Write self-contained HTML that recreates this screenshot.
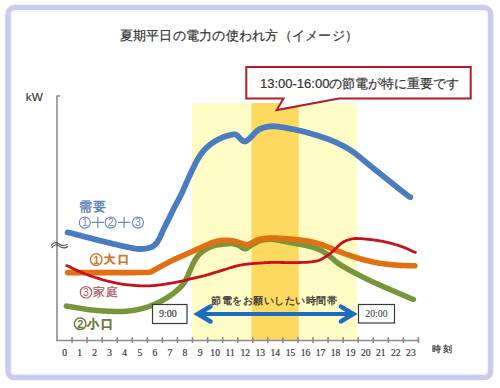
<!DOCTYPE html>
<html><head><meta charset="utf-8">
<style>
html,body{margin:0;padding:0;background:#fff;width:500px;height:388px;overflow:hidden}
svg{position:absolute;left:0;top:0}
</style></head><body>
<svg width="500" height="388" viewBox="0 0 500 388" font-family="'Liberation Sans', sans-serif">
<rect x="8" y="7.55" width="482.65" height="370.05" rx="6.5" fill="none" stroke="#cbcbef" stroke-width="5.5"/><rect x="11.7" y="11.2" width="475.3" height="362.8" rx="3" fill="none" stroke="#eeeefa" stroke-width="1"/>
<rect x="192" y="103" width="165" height="237" fill="#fffcc6"/>
<rect x="251.5" y="103" width="47.2" height="237" fill="#fdd960"/>
<g stroke="#8c8c8c" stroke-width="1.6" fill="none">
<line x1="57" y1="95.5" x2="57" y2="341"/>
<line x1="57" y1="96" x2="60" y2="96"/>
<line x1="56.2" y1="340.5" x2="418.5" y2="340.5"/>
<line x1="72.06" y1="337" x2="72.06" y2="343"/><line x1="87.12" y1="337" x2="87.12" y2="343"/><line x1="102.18" y1="337" x2="102.18" y2="343"/><line x1="117.24" y1="337" x2="117.24" y2="343"/><line x1="132.30" y1="337" x2="132.30" y2="343"/><line x1="147.36" y1="337" x2="147.36" y2="343"/><line x1="162.42" y1="337" x2="162.42" y2="343"/><line x1="177.48" y1="337" x2="177.48" y2="343"/><line x1="192.54" y1="337" x2="192.54" y2="343"/><line x1="207.60" y1="337" x2="207.60" y2="343"/><line x1="222.66" y1="337" x2="222.66" y2="343"/><line x1="237.72" y1="337" x2="237.72" y2="343"/><line x1="252.78" y1="337" x2="252.78" y2="343"/><line x1="267.84" y1="337" x2="267.84" y2="343"/><line x1="282.90" y1="337" x2="282.90" y2="343"/><line x1="297.96" y1="337" x2="297.96" y2="343"/><line x1="313.02" y1="337" x2="313.02" y2="343"/><line x1="328.08" y1="337" x2="328.08" y2="343"/><line x1="343.14" y1="337" x2="343.14" y2="343"/><line x1="358.20" y1="337" x2="358.20" y2="343"/><line x1="373.26" y1="337" x2="373.26" y2="343"/><line x1="388.32" y1="337" x2="388.32" y2="343"/><line x1="403.38" y1="337" x2="403.38" y2="343"/><line x1="418.44" y1="337" x2="418.44" y2="343"/>
</g>
<path d="M66.40 306.08 L67.15 306.16 L67.90 306.27 L68.65 306.39 L69.40 306.52 L70.15 306.64 L70.90 306.77 L71.65 306.89 L72.40 307.02 L73.15 307.14 L73.90 307.26 L74.65 307.38 L75.40 307.50 L76.15 307.62 L76.90 307.75 L77.65 307.87 L78.40 307.99 L79.15 308.11 L79.90 308.24 L80.65 308.36 L81.40 308.49 L82.15 308.61 L82.90 308.73 L83.65 308.85 L84.40 308.97 L85.15 309.09 L85.90 309.20 L86.65 309.32 L87.40 309.42 L88.15 309.53 L88.90 309.63 L89.65 309.72 L90.40 309.82 L91.15 309.90 L91.90 309.98 L92.65 310.06 L93.40 310.14 L94.15 310.21 L94.90 310.28 L95.65 310.35 L96.40 310.42 L97.15 310.48 L97.90 310.55 L98.65 310.61 L99.40 310.67 L100.15 310.72 L100.90 310.78 L101.65 310.83 L102.40 310.88 L103.15 310.93 L103.90 310.98 L104.65 311.02 L105.40 311.07 L106.15 311.11 L106.90 311.15 L107.65 311.18 L108.40 311.22 L109.15 311.25 L109.90 311.28 L110.65 311.31 L111.40 311.34 L112.15 311.36 L112.90 311.39 L113.65 311.41 L114.40 311.43 L115.15 311.45 L115.90 311.46 L116.65 311.48 L117.40 311.49 L118.15 311.50 L118.90 311.50 L119.65 311.51 L120.40 311.51 L121.15 311.50 L121.90 311.49 L122.65 311.47 L123.40 311.45 L124.15 311.41 L124.90 311.36 L125.65 311.30 L126.40 311.24 L127.15 311.16 L127.90 311.08 L128.65 311.00 L129.40 310.91 L130.15 310.82 L130.90 310.73 L131.65 310.64 L132.40 310.54 L133.15 310.43 L133.90 310.32 L134.65 310.19 L135.40 310.06 L136.15 309.92 L136.90 309.76 L137.65 309.61 L138.40 309.44 L139.15 309.27 L139.90 309.10 L140.65 308.92 L141.40 308.74 L142.15 308.55 L142.90 308.36 L143.65 308.16 L144.40 307.95 L145.15 307.73 L145.90 307.50 L146.65 307.26 L147.40 307.01 L148.15 306.76 L148.90 306.50 L149.65 306.23 L150.40 305.96 L151.15 305.69 L151.90 305.41 L152.65 305.12 L153.40 304.83 L154.15 304.53 L154.90 304.22 L155.65 303.89 L156.40 303.55 L157.15 303.21 L157.90 302.85 L158.65 302.48 L159.40 302.10 L160.15 301.72 L160.90 301.33 L161.65 300.93 L162.40 300.52 L163.15 300.10 L163.90 299.66 L164.65 299.22 L165.40 298.77 L166.15 298.30 L166.90 297.83 L167.65 297.35 L168.40 296.86 L169.15 296.37 L169.90 295.87 L170.65 295.35 L171.40 294.83 L172.15 294.29 L172.90 293.73 L173.65 293.15 L174.40 292.55 L175.15 291.94 L175.90 291.31 L176.65 290.66 L177.40 290.01 L178.15 289.34 L178.90 288.65 L179.65 287.95 L180.40 287.21 L181.15 286.44 L181.90 285.61 L182.65 284.73 L183.40 283.78 L184.15 282.75 L184.90 281.60 L185.65 280.32 L186.40 278.87 L187.15 277.26 L187.90 275.54 L188.65 273.77 L189.40 271.98 L190.15 270.22 L190.90 268.48 L191.65 266.77 L192.40 265.11 L193.15 263.53 L193.90 262.07 L194.65 260.72 L195.40 259.48 L196.15 258.33 L196.90 257.25 L197.65 256.24 L198.40 255.31 L199.15 254.47 L199.90 253.72 L200.65 253.04 L201.40 252.41 L202.15 251.83 L202.90 251.28 L203.65 250.75 L204.40 250.25 L205.15 249.76 L205.90 249.31 L206.65 248.88 L207.40 248.47 L208.15 248.09 L208.90 247.72 L209.65 247.36 L210.40 247.01 L211.15 246.66 L211.90 246.34 L212.65 246.04 L213.40 245.78 L214.15 245.55 L214.90 245.37 L215.65 245.21 L216.40 245.08 L217.15 244.97 L217.90 244.86 L218.65 244.77 L219.40 244.67 L220.15 244.58 L220.90 244.49 L221.65 244.40 L222.40 244.30 L223.15 244.21 L223.90 244.12 L224.65 244.03 L225.40 243.95 L226.15 243.87 L226.90 243.79 L227.65 243.72 L228.40 243.66 L229.15 243.60 L229.90 243.56 L230.65 243.55 L231.40 243.56 L232.15 243.62 L232.90 243.72 L233.65 243.87 L234.40 244.05 L235.15 244.27 L235.90 244.50 L236.65 244.76 L237.40 245.02 L238.15 245.31 L238.90 245.63 L239.65 246.02 L240.40 246.47 L241.15 246.98 L241.90 247.50 L242.65 247.98 L243.40 248.38 L244.15 248.65 L244.90 248.75 L245.65 248.68 L246.40 248.45 L247.15 248.09 L247.90 247.62 L248.65 247.10 L249.40 246.55 L250.15 246.01 L250.90 245.49 L251.65 245.01 L252.40 244.56 L253.15 244.13 L253.90 243.69 L254.65 243.26 L255.40 242.83 L256.15 242.41 L256.90 242.01 L257.65 241.63 L258.40 241.29 L259.15 240.98 L259.90 240.71 L260.65 240.48 L261.40 240.29 L262.15 240.13 L262.90 239.99 L263.65 239.87 L264.40 239.75 L265.15 239.64 L265.90 239.55 L266.65 239.47 L267.40 239.40 L268.15 239.35 L268.90 239.31 L269.65 239.29 L270.40 239.28 L271.15 239.30 L271.90 239.33 L272.65 239.38 L273.40 239.45 L274.15 239.54 L274.90 239.64 L275.65 239.75 L276.40 239.87 L277.15 239.99 L277.90 240.12 L278.65 240.25 L279.40 240.39 L280.15 240.53 L280.90 240.68 L281.65 240.83 L282.40 240.98 L283.15 241.13 L283.90 241.28 L284.65 241.43 L285.40 241.59 L286.15 241.74 L286.90 241.89 L287.65 242.04 L288.40 242.19 L289.15 242.33 L289.90 242.48 L290.65 242.62 L291.40 242.76 L292.15 242.90 L292.90 243.03 L293.65 243.17 L294.40 243.31 L295.15 243.44 L295.90 243.58 L296.65 243.71 L297.40 243.85 L298.15 243.99 L298.90 244.12 L299.65 244.26 L300.40 244.40 L301.15 244.54 L301.90 244.69 L302.65 244.83 L303.40 244.98 L304.15 245.13 L304.90 245.28 L305.65 245.43 L306.40 245.59 L307.15 245.76 L307.90 245.93 L308.65 246.11 L309.40 246.30 L310.15 246.50 L310.90 246.70 L311.65 246.91 L312.40 247.13 L313.15 247.36 L313.90 247.59 L314.65 247.84 L315.40 248.09 L316.15 248.34 L316.90 248.61 L317.65 248.89 L318.40 249.19 L319.15 249.51 L319.90 249.86 L320.65 250.23 L321.40 250.64 L322.15 251.06 L322.90 251.51 L323.65 251.98 L324.40 252.46 L325.15 252.96 L325.90 253.47 L326.65 253.98 L327.40 254.51 L328.15 255.05 L328.90 255.60 L329.65 256.18 L330.40 256.79 L331.15 257.42 L331.90 258.07 L332.65 258.73 L333.40 259.40 L334.15 260.07 L334.90 260.72 L335.65 261.35 L336.40 261.96 L337.15 262.54 L337.90 263.09 L338.65 263.62 L339.40 264.12 L340.15 264.61 L340.90 265.09 L341.65 265.56 L342.40 266.02 L343.15 266.47 L343.90 266.92 L344.65 267.36 L345.40 267.80 L346.15 268.22 L346.90 268.65 L347.65 269.07 L348.40 269.48 L349.15 269.89 L349.90 270.30 L350.65 270.71 L351.40 271.11 L352.15 271.51 L352.90 271.91 L353.65 272.31 L354.40 272.71 L355.15 273.11 L355.90 273.51 L356.65 273.90 L357.40 274.29 L358.15 274.68 L358.90 275.07 L359.65 275.46 L360.40 275.85 L361.15 276.23 L361.90 276.61 L362.65 276.99 L363.40 277.37 L364.15 277.74 L364.90 278.12 L365.65 278.49 L366.40 278.86 L367.15 279.22 L367.90 279.59 L368.65 279.95 L369.40 280.31 L370.15 280.67 L370.90 281.02 L371.65 281.38 L372.40 281.73 L373.15 282.08 L373.90 282.42 L374.65 282.77 L375.40 283.11 L376.15 283.46 L376.90 283.80 L377.65 284.13 L378.40 284.47 L379.15 284.81 L379.90 285.14 L380.65 285.48 L381.40 285.81 L382.15 286.14 L382.90 286.47 L383.65 286.81 L384.40 287.14 L385.15 287.46 L385.90 287.79 L386.65 288.12 L387.40 288.45 L388.15 288.77 L388.90 289.09 L389.65 289.42 L390.40 289.74 L391.15 290.06 L391.90 290.38 L392.65 290.70 L393.40 291.02 L394.15 291.33 L394.90 291.65 L395.65 291.97 L396.40 292.29 L397.15 292.61 L397.90 292.93 L398.65 293.25 L399.40 293.57 L400.15 293.89 L400.90 294.21 L401.65 294.53 L402.40 294.85 L403.15 295.18 L403.90 295.50 L404.65 295.82 L405.40 296.14 L406.15 296.46 L406.90 296.78 L407.65 297.10 L408.40 297.42 L409.15 297.74 L409.90 298.06 L410.65 298.38 L411.40 298.69 L412.15 298.98 L412.90 299.23 L413.40 299.35" stroke="#77953a" stroke-width="5.5" fill="none" stroke-linecap="round"/>
<path d="M67.60 272.60 L68.35 272.60 L69.10 272.60 L69.85 272.60 L70.60 272.60 L71.35 272.60 L72.10 272.60 L72.85 272.61 L73.60 272.61 L74.35 272.61 L75.10 272.61 L75.85 272.61 L76.60 272.61 L77.35 272.61 L78.10 272.61 L78.85 272.61 L79.60 272.61 L80.35 272.61 L81.10 272.61 L81.85 272.61 L82.60 272.61 L83.35 272.61 L84.10 272.61 L84.85 272.61 L85.60 272.61 L86.35 272.61 L87.10 272.61 L87.85 272.61 L88.60 272.61 L89.35 272.61 L90.10 272.61 L90.85 272.61 L91.60 272.61 L92.35 272.61 L93.10 272.61 L93.85 272.61 L94.60 272.61 L95.35 272.61 L96.10 272.61 L96.85 272.61 L97.60 272.61 L98.35 272.61 L99.10 272.61 L99.85 272.61 L100.60 272.61 L101.35 272.61 L102.10 272.61 L102.85 272.61 L103.60 272.60 L104.35 272.60 L105.10 272.60 L105.85 272.60 L106.60 272.60 L107.35 272.60 L108.10 272.60 L108.85 272.60 L109.60 272.60 L110.35 272.60 L111.10 272.60 L111.85 272.60 L112.60 272.60 L113.35 272.60 L114.10 272.60 L114.85 272.60 L115.60 272.60 L116.35 272.60 L117.10 272.60 L117.85 272.60 L118.60 272.60 L119.35 272.60 L120.10 272.60 L120.85 272.60 L121.60 272.60 L122.35 272.60 L123.10 272.60 L123.85 272.60 L124.60 272.60 L125.35 272.60 L126.10 272.60 L126.85 272.60 L127.60 272.59 L128.35 272.59 L129.10 272.59 L129.85 272.59 L130.60 272.59 L131.35 272.59 L132.10 272.59 L132.85 272.58 L133.60 272.58 L134.35 272.58 L135.10 272.58 L135.85 272.57 L136.60 272.57 L137.35 272.57 L138.10 272.57 L138.85 272.56 L139.60 272.56 L140.35 272.56 L141.10 272.55 L141.85 272.55 L142.60 272.54 L143.35 272.54 L144.10 272.53 L144.85 272.53 L145.60 272.52 L146.35 272.50 L147.10 272.48 L147.85 272.43 L148.60 272.35 L149.35 272.22 L150.10 272.04 L150.85 271.79 L151.60 271.49 L152.35 271.13 L153.10 270.73 L153.85 270.31 L154.60 269.87 L155.35 269.44 L156.10 269.01 L156.85 268.59 L157.60 268.18 L158.35 267.77 L159.10 267.37 L159.85 266.97 L160.60 266.57 L161.35 266.17 L162.10 265.76 L162.85 265.36 L163.60 264.96 L164.35 264.56 L165.10 264.16 L165.85 263.76 L166.60 263.36 L167.35 262.97 L168.10 262.58 L168.85 262.19 L169.60 261.81 L170.35 261.43 L171.10 261.06 L171.85 260.69 L172.60 260.33 L173.35 259.97 L174.10 259.61 L174.85 259.26 L175.60 258.92 L176.35 258.57 L177.10 258.23 L177.85 257.89 L178.60 257.56 L179.35 257.22 L180.10 256.89 L180.85 256.56 L181.60 256.23 L182.35 255.90 L183.10 255.57 L183.85 255.24 L184.60 254.91 L185.35 254.58 L186.10 254.24 L186.85 253.91 L187.60 253.57 L188.35 253.24 L189.10 252.90 L189.85 252.56 L190.60 252.22 L191.35 251.88 L192.10 251.54 L192.85 251.20 L193.60 250.86 L194.35 250.52 L195.10 250.18 L195.85 249.84 L196.60 249.50 L197.35 249.16 L198.10 248.82 L198.85 248.48 L199.60 248.15 L200.35 247.81 L201.10 247.48 L201.85 247.15 L202.60 246.81 L203.35 246.48 L204.10 246.15 L204.85 245.82 L205.60 245.49 L206.35 245.16 L207.10 244.82 L207.85 244.50 L208.60 244.17 L209.35 243.85 L210.10 243.54 L210.85 243.24 L211.60 242.95 L212.35 242.68 L213.10 242.41 L213.85 242.16 L214.60 241.92 L215.35 241.70 L216.10 241.49 L216.85 241.29 L217.60 241.11 L218.35 240.95 L219.10 240.81 L219.85 240.68 L220.60 240.58 L221.35 240.49 L222.10 240.41 L222.85 240.35 L223.60 240.30 L224.35 240.27 L225.10 240.25 L225.85 240.25 L226.60 240.26 L227.35 240.28 L228.10 240.32 L228.85 240.37 L229.60 240.43 L230.35 240.50 L231.10 240.59 L231.85 240.69 L232.60 240.81 L233.35 240.94 L234.10 241.10 L234.85 241.28 L235.60 241.48 L236.35 241.69 L237.10 241.92 L237.85 242.16 L238.60 242.41 L239.35 242.66 L240.10 242.90 L240.85 243.15 L241.60 243.39 L242.35 243.63 L243.10 243.86 L243.85 244.07 L244.60 244.25 L245.35 244.38 L246.10 244.46 L246.85 244.48 L247.60 244.41 L248.35 244.27 L249.10 244.07 L249.85 243.80 L250.60 243.48 L251.35 243.12 L252.10 242.73 L252.85 242.32 L253.60 241.89 L254.35 241.47 L255.10 241.06 L255.85 240.69 L256.60 240.34 L257.35 240.04 L258.10 239.78 L258.85 239.55 L259.60 239.34 L260.35 239.16 L261.10 239.00 L261.85 238.86 L262.60 238.73 L263.35 238.62 L264.10 238.53 L264.85 238.45 L265.60 238.38 L266.35 238.32 L267.10 238.26 L267.85 238.21 L268.60 238.17 L269.35 238.12 L270.10 238.09 L270.85 238.06 L271.60 238.04 L272.35 238.03 L273.10 238.02 L273.85 238.03 L274.60 238.04 L275.35 238.06 L276.10 238.09 L276.85 238.12 L277.60 238.15 L278.35 238.19 L279.10 238.23 L279.85 238.27 L280.60 238.32 L281.35 238.37 L282.10 238.42 L282.85 238.47 L283.60 238.52 L284.35 238.57 L285.10 238.63 L285.85 238.68 L286.60 238.74 L287.35 238.80 L288.10 238.86 L288.85 238.91 L289.60 238.97 L290.35 239.03 L291.10 239.09 L291.85 239.16 L292.60 239.22 L293.35 239.29 L294.10 239.36 L294.85 239.44 L295.60 239.51 L296.35 239.59 L297.10 239.67 L297.85 239.76 L298.60 239.84 L299.35 239.93 L300.10 240.02 L300.85 240.11 L301.60 240.21 L302.35 240.31 L303.10 240.41 L303.85 240.51 L304.60 240.61 L305.35 240.72 L306.10 240.84 L306.85 240.96 L307.60 241.08 L308.35 241.22 L309.10 241.36 L309.85 241.51 L310.60 241.67 L311.35 241.83 L312.10 242.01 L312.85 242.19 L313.60 242.38 L314.35 242.57 L315.10 242.77 L315.85 242.98 L316.60 243.19 L317.35 243.40 L318.10 243.62 L318.85 243.84 L319.60 244.07 L320.35 244.30 L321.10 244.54 L321.85 244.78 L322.60 245.03 L323.35 245.28 L324.10 245.55 L324.85 245.82 L325.60 246.10 L326.35 246.39 L327.10 246.69 L327.85 246.99 L328.60 247.30 L329.35 247.62 L330.10 247.93 L330.85 248.25 L331.60 248.57 L332.35 248.89 L333.10 249.21 L333.85 249.52 L334.60 249.83 L335.35 250.14 L336.10 250.44 L336.85 250.74 L337.60 251.03 L338.35 251.32 L339.10 251.60 L339.85 251.88 L340.60 252.16 L341.35 252.44 L342.10 252.71 L342.85 252.99 L343.60 253.26 L344.35 253.53 L345.10 253.80 L345.85 254.06 L346.60 254.33 L347.35 254.59 L348.10 254.85 L348.85 255.11 L349.60 255.36 L350.35 255.61 L351.10 255.86 L351.85 256.10 L352.60 256.35 L353.35 256.59 L354.10 256.82 L354.85 257.06 L355.60 257.29 L356.35 257.52 L357.10 257.75 L357.85 257.98 L358.60 258.20 L359.35 258.43 L360.10 258.65 L360.85 258.87 L361.60 259.08 L362.35 259.30 L363.10 259.51 L363.85 259.72 L364.60 259.92 L365.35 260.12 L366.10 260.32 L366.85 260.52 L367.60 260.71 L368.35 260.89 L369.10 261.07 L369.85 261.25 L370.60 261.43 L371.35 261.60 L372.10 261.78 L372.85 261.94 L373.60 262.11 L374.35 262.27 L375.10 262.42 L375.85 262.57 L376.60 262.72 L377.35 262.85 L378.10 262.98 L378.85 263.11 L379.60 263.22 L380.35 263.33 L381.10 263.44 L381.85 263.54 L382.60 263.64 L383.35 263.74 L384.10 263.84 L384.85 263.94 L385.60 264.03 L386.35 264.13 L387.10 264.22 L387.85 264.31 L388.60 264.40 L389.35 264.48 L390.10 264.56 L390.85 264.64 L391.60 264.72 L392.35 264.80 L393.10 264.87 L393.85 264.93 L394.60 265.00 L395.35 265.06 L396.10 265.11 L396.85 265.16 L397.60 265.21 L398.35 265.25 L399.10 265.30 L399.85 265.33 L400.60 265.37 L401.35 265.40 L402.10 265.44 L402.85 265.47 L403.60 265.50 L404.35 265.52 L405.10 265.55 L405.85 265.58 L406.60 265.60 L407.35 265.62 L408.10 265.64 L408.85 265.65 L409.60 265.67 L410.35 265.68 L411.10 265.69 L411.85 265.70 L412.60 265.70 L413.35 265.70 L414.10 265.70 L414.85 265.70 L414.85 265.70" stroke="#e07012" stroke-width="5.6" fill="none" stroke-linecap="round"/>
<path d="M67.60 232.36 L68.35 232.48 L69.10 232.64 L69.85 232.82 L70.60 233.01 L71.35 233.21 L72.10 233.41 L72.85 233.61 L73.60 233.81 L74.35 234.01 L75.10 234.21 L75.85 234.41 L76.60 234.60 L77.35 234.80 L78.10 235.00 L78.85 235.20 L79.60 235.40 L80.35 235.59 L81.10 235.79 L81.85 235.98 L82.60 236.18 L83.35 236.38 L84.10 236.57 L84.85 236.77 L85.60 236.96 L86.35 237.15 L87.10 237.35 L87.85 237.54 L88.60 237.73 L89.35 237.92 L90.10 238.12 L90.85 238.31 L91.60 238.50 L92.35 238.69 L93.10 238.88 L93.85 239.07 L94.60 239.26 L95.35 239.45 L96.10 239.64 L96.85 239.83 L97.60 240.02 L98.35 240.21 L99.10 240.40 L99.85 240.59 L100.60 240.78 L101.35 240.96 L102.10 241.15 L102.85 241.34 L103.60 241.53 L104.35 241.71 L105.10 241.90 L105.85 242.09 L106.60 242.27 L107.35 242.46 L108.10 242.64 L108.85 242.82 L109.60 243.01 L110.35 243.19 L111.10 243.37 L111.85 243.55 L112.60 243.73 L113.35 243.91 L114.10 244.09 L114.85 244.26 L115.60 244.44 L116.35 244.62 L117.10 244.79 L117.85 244.96 L118.60 245.14 L119.35 245.31 L120.10 245.48 L120.85 245.65 L121.60 245.82 L122.35 245.98 L123.10 246.15 L123.85 246.32 L124.60 246.48 L125.35 246.64 L126.10 246.80 L126.85 246.96 L127.60 247.11 L128.35 247.27 L129.10 247.42 L129.85 247.57 L130.60 247.72 L131.35 247.87 L132.10 248.02 L132.85 248.17 L133.60 248.32 L134.35 248.46 L135.10 248.59 L135.85 248.70 L136.60 248.81 L137.35 248.89 L138.10 248.96 L138.85 249.00 L139.60 249.02 L140.35 249.02 L141.10 249.00 L141.85 248.96 L142.60 248.91 L143.35 248.86 L144.10 248.79 L144.85 248.71 L145.60 248.61 L146.35 248.49 L147.10 248.34 L147.85 248.17 L148.60 247.99 L149.35 247.78 L150.10 247.56 L150.85 247.31 L151.60 247.03 L152.35 246.69 L153.10 246.27 L153.85 245.75 L154.60 245.13 L155.35 244.40 L156.10 243.58 L156.85 242.64 L157.60 241.59 L158.35 240.39 L159.10 239.05 L159.85 237.55 L160.60 235.93 L161.35 234.24 L162.10 232.54 L162.85 230.87 L163.60 229.26 L164.35 227.69 L165.10 226.16 L165.85 224.66 L166.60 223.16 L167.35 221.67 L168.10 220.18 L168.85 218.68 L169.60 217.16 L170.35 215.64 L171.10 214.11 L171.85 212.58 L172.60 211.05 L173.35 209.53 L174.10 208.03 L174.85 206.55 L175.60 205.11 L176.35 203.69 L177.10 202.30 L177.85 200.91 L178.60 199.53 L179.35 198.12 L180.10 196.67 L180.85 195.17 L181.60 193.61 L182.35 191.99 L183.10 190.33 L183.85 188.63 L184.60 186.91 L185.35 185.19 L186.10 183.48 L186.85 181.78 L187.60 180.10 L188.35 178.44 L189.10 176.80 L189.85 175.17 L190.60 173.55 L191.35 171.95 L192.10 170.36 L192.85 168.78 L193.60 167.21 L194.35 165.67 L195.10 164.15 L195.85 162.67 L196.60 161.25 L197.35 159.89 L198.10 158.59 L198.85 157.35 L199.60 156.17 L200.35 155.04 L201.10 153.96 L201.85 152.93 L202.60 151.97 L203.35 151.06 L204.10 150.21 L204.85 149.41 L205.60 148.65 L206.35 147.92 L207.10 147.21 L207.85 146.53 L208.60 145.86 L209.35 145.23 L210.10 144.62 L210.85 144.04 L211.60 143.49 L212.35 142.96 L213.10 142.47 L213.85 141.99 L214.60 141.54 L215.35 141.09 L216.10 140.65 L216.85 140.23 L217.60 139.81 L218.35 139.41 L219.10 139.01 L219.85 138.64 L220.60 138.28 L221.35 137.94 L222.10 137.62 L222.85 137.32 L223.60 137.04 L224.35 136.78 L225.10 136.53 L225.85 136.29 L226.60 136.07 L227.35 135.86 L228.10 135.65 L228.85 135.44 L229.60 135.24 L230.35 135.05 L231.10 134.86 L231.85 134.70 L232.60 134.55 L233.35 134.45 L234.10 134.41 L234.85 134.47 L235.60 134.64 L236.35 134.97 L237.10 135.45 L237.85 136.07 L238.60 136.80 L239.35 137.59 L240.10 138.41 L240.85 139.20 L241.60 139.93 L242.35 140.54 L243.10 141.00 L243.85 141.29 L244.60 141.38 L245.35 141.29 L246.10 141.03 L246.85 140.62 L247.60 140.10 L248.35 139.48 L249.10 138.81 L249.85 138.10 L250.60 137.36 L251.35 136.62 L252.10 135.86 L252.85 135.10 L253.60 134.31 L254.35 133.51 L255.10 132.73 L255.85 131.97 L256.60 131.27 L257.35 130.64 L258.10 130.09 L258.85 129.61 L259.60 129.19 L260.35 128.82 L261.10 128.48 L261.85 128.17 L262.60 127.90 L263.35 127.66 L264.10 127.45 L264.85 127.26 L265.60 127.10 L266.35 126.94 L267.10 126.79 L267.85 126.65 L268.60 126.53 L269.35 126.42 L270.10 126.34 L270.85 126.28 L271.60 126.25 L272.35 126.25 L273.10 126.27 L273.85 126.31 L274.60 126.35 L275.35 126.41 L276.10 126.48 L276.85 126.55 L277.60 126.63 L278.35 126.72 L279.10 126.81 L279.85 126.91 L280.60 127.02 L281.35 127.13 L282.10 127.24 L282.85 127.36 L283.60 127.48 L284.35 127.61 L285.10 127.74 L285.85 127.87 L286.60 128.01 L287.35 128.14 L288.10 128.28 L288.85 128.42 L289.60 128.56 L290.35 128.69 L291.10 128.83 L291.85 128.98 L292.60 129.12 L293.35 129.26 L294.10 129.41 L294.85 129.56 L295.60 129.72 L296.35 129.88 L297.10 130.04 L297.85 130.21 L298.60 130.38 L299.35 130.56 L300.10 130.73 L300.85 130.92 L301.60 131.10 L302.35 131.29 L303.10 131.48 L303.85 131.67 L304.60 131.87 L305.35 132.07 L306.10 132.27 L306.85 132.48 L307.60 132.69 L308.35 132.90 L309.10 133.11 L309.85 133.32 L310.60 133.54 L311.35 133.76 L312.10 133.97 L312.85 134.20 L313.60 134.42 L314.35 134.64 L315.10 134.87 L315.85 135.10 L316.60 135.33 L317.35 135.56 L318.10 135.79 L318.85 136.02 L319.60 136.25 L320.35 136.49 L321.10 136.72 L321.85 136.96 L322.60 137.20 L323.35 137.44 L324.10 137.69 L324.85 137.95 L325.60 138.21 L326.35 138.47 L327.10 138.74 L327.85 139.02 L328.60 139.30 L329.35 139.59 L330.10 139.89 L330.85 140.19 L331.60 140.49 L332.35 140.81 L333.10 141.12 L333.85 141.45 L334.60 141.78 L335.35 142.11 L336.10 142.45 L336.85 142.80 L337.60 143.15 L338.35 143.51 L339.10 143.87 L339.85 144.24 L340.60 144.61 L341.35 144.99 L342.10 145.38 L342.85 145.77 L343.60 146.17 L344.35 146.57 L345.10 146.98 L345.85 147.39 L346.60 147.82 L347.35 148.24 L348.10 148.68 L348.85 149.13 L349.60 149.59 L350.35 150.07 L351.10 150.56 L351.85 151.07 L352.60 151.59 L353.35 152.12 L354.10 152.66 L354.85 153.22 L355.60 153.78 L356.35 154.36 L357.10 154.94 L357.85 155.54 L358.60 156.14 L359.35 156.74 L360.10 157.36 L360.85 157.97 L361.60 158.60 L362.35 159.22 L363.10 159.85 L363.85 160.48 L364.60 161.10 L365.35 161.73 L366.10 162.36 L366.85 162.99 L367.60 163.61 L368.35 164.23 L369.10 164.85 L369.85 165.46 L370.60 166.07 L371.35 166.67 L372.10 167.27 L372.85 167.87 L373.60 168.47 L374.35 169.06 L375.10 169.66 L375.85 170.26 L376.60 170.85 L377.35 171.45 L378.10 172.05 L378.85 172.66 L379.60 173.26 L380.35 173.86 L381.10 174.46 L381.85 175.06 L382.60 175.67 L383.35 176.27 L384.10 176.87 L384.85 177.48 L385.60 178.08 L386.35 178.68 L387.10 179.28 L387.85 179.89 L388.60 180.49 L389.35 181.09 L390.10 181.68 L390.85 182.28 L391.60 182.88 L392.35 183.48 L393.10 184.07 L393.85 184.67 L394.60 185.26 L395.35 185.86 L396.10 186.45 L396.85 187.05 L397.60 187.64 L398.35 188.23 L399.10 188.83 L399.85 189.42 L400.60 190.01 L401.35 190.60 L402.10 191.19 L402.85 191.79 L403.60 192.38 L404.35 192.97 L405.10 193.56 L405.85 194.15 L406.60 194.74 L407.35 195.32 L408.10 195.88 L408.85 196.41 L409.60 196.86 L410.35 197.21 L410.35 197.21" stroke="#4a7cc0" stroke-width="5.8" fill="none" stroke-linecap="round"/>
<path d="M66.70 265.64 L67.45 265.88 L68.20 266.17 L68.95 266.51 L69.70 266.87 L70.45 267.25 L71.20 267.64 L71.95 268.02 L72.70 268.40 L73.45 268.77 L74.20 269.14 L74.95 269.49 L75.70 269.84 L76.45 270.18 L77.20 270.52 L77.95 270.85 L78.70 271.18 L79.45 271.50 L80.20 271.82 L80.95 272.14 L81.70 272.46 L82.45 272.77 L83.20 273.08 L83.95 273.38 L84.70 273.68 L85.45 273.98 L86.20 274.27 L86.95 274.56 L87.70 274.85 L88.45 275.12 L89.20 275.40 L89.95 275.67 L90.70 275.94 L91.45 276.20 L92.20 276.46 L92.95 276.71 L93.70 276.96 L94.45 277.22 L95.20 277.46 L95.95 277.71 L96.70 277.95 L97.45 278.19 L98.20 278.43 L98.95 278.67 L99.70 278.90 L100.45 279.13 L101.20 279.35 L101.95 279.57 L102.70 279.79 L103.45 280.00 L104.20 280.21 L104.95 280.41 L105.70 280.61 L106.45 280.80 L107.20 280.99 L107.95 281.18 L108.70 281.36 L109.45 281.54 L110.20 281.72 L110.95 281.89 L111.70 282.07 L112.45 282.24 L113.20 282.41 L113.95 282.58 L114.70 282.74 L115.45 282.91 L116.20 283.06 L116.95 283.22 L117.70 283.37 L118.45 283.51 L119.20 283.65 L119.95 283.78 L120.70 283.91 L121.45 284.02 L122.20 284.14 L122.95 284.24 L123.70 284.34 L124.45 284.44 L125.20 284.53 L125.95 284.62 L126.70 284.71 L127.45 284.79 L128.20 284.88 L128.95 284.96 L129.70 285.04 L130.45 285.11 L131.20 285.19 L131.95 285.26 L132.70 285.33 L133.45 285.39 L134.20 285.45 L134.95 285.51 L135.70 285.56 L136.45 285.61 L137.20 285.66 L137.95 285.70 L138.70 285.73 L139.45 285.77 L140.20 285.79 L140.95 285.82 L141.70 285.84 L142.45 285.85 L143.20 285.86 L143.95 285.87 L144.70 285.88 L145.45 285.88 L146.20 285.88 L146.95 285.87 L147.70 285.86 L148.45 285.84 L149.20 285.82 L149.95 285.79 L150.70 285.76 L151.45 285.72 L152.20 285.67 L152.95 285.61 L153.70 285.55 L154.45 285.49 L155.20 285.41 L155.95 285.34 L156.70 285.26 L157.45 285.17 L158.20 285.08 L158.95 284.99 L159.70 284.90 L160.45 284.81 L161.20 284.71 L161.95 284.61 L162.70 284.51 L163.45 284.40 L164.20 284.29 L164.95 284.18 L165.70 284.06 L166.45 283.94 L167.20 283.82 L167.95 283.70 L168.70 283.57 L169.45 283.44 L170.20 283.32 L170.95 283.19 L171.70 283.06 L172.45 282.92 L173.20 282.79 L173.95 282.65 L174.70 282.51 L175.45 282.37 L176.20 282.22 L176.95 282.08 L177.70 281.93 L178.45 281.77 L179.20 281.62 L179.95 281.46 L180.70 281.29 L181.45 281.13 L182.20 280.95 L182.95 280.78 L183.70 280.59 L184.45 280.41 L185.20 280.22 L185.95 280.03 L186.70 279.84 L187.45 279.65 L188.20 279.46 L188.95 279.27 L189.70 279.09 L190.45 278.91 L191.20 278.73 L191.95 278.56 L192.70 278.38 L193.45 278.22 L194.20 278.05 L194.95 277.88 L195.70 277.72 L196.45 277.55 L197.20 277.39 L197.95 277.22 L198.70 277.06 L199.45 276.89 L200.20 276.71 L200.95 276.54 L201.70 276.36 L202.45 276.18 L203.20 275.99 L203.95 275.79 L204.70 275.60 L205.45 275.39 L206.20 275.18 L206.95 274.97 L207.70 274.76 L208.45 274.54 L209.20 274.31 L209.95 274.09 L210.70 273.86 L211.45 273.63 L212.20 273.39 L212.95 273.16 L213.70 272.93 L214.45 272.69 L215.20 272.46 L215.95 272.23 L216.70 272.00 L217.45 271.77 L218.20 271.54 L218.95 271.31 L219.70 271.09 L220.45 270.86 L221.20 270.63 L221.95 270.40 L222.70 270.17 L223.45 269.94 L224.20 269.70 L224.95 269.46 L225.70 269.22 L226.45 268.98 L227.20 268.74 L227.95 268.49 L228.70 268.25 L229.45 268.02 L230.20 267.78 L230.95 267.55 L231.70 267.32 L232.45 267.09 L233.20 266.87 L233.95 266.65 L234.70 266.44 L235.45 266.24 L236.20 266.04 L236.95 265.86 L237.70 265.68 L238.45 265.51 L239.20 265.35 L239.95 265.19 L240.70 265.05 L241.45 264.92 L242.20 264.80 L242.95 264.68 L243.70 264.57 L244.45 264.47 L245.20 264.37 L245.95 264.27 L246.70 264.18 L247.45 264.09 L248.20 264.01 L248.95 263.93 L249.70 263.85 L250.45 263.78 L251.20 263.71 L251.95 263.65 L252.70 263.58 L253.45 263.52 L254.20 263.46 L254.95 263.41 L255.70 263.35 L256.45 263.30 L257.20 263.25 L257.95 263.20 L258.70 263.16 L259.45 263.11 L260.20 263.06 L260.95 263.01 L261.70 262.96 L262.45 262.91 L263.20 262.86 L263.95 262.81 L264.70 262.77 L265.45 262.72 L266.20 262.67 L266.95 262.63 L267.70 262.59 L268.45 262.56 L269.20 262.52 L269.95 262.49 L270.70 262.47 L271.45 262.45 L272.20 262.43 L272.95 262.42 L273.70 262.42 L274.45 262.41 L275.20 262.41 L275.95 262.42 L276.70 262.42 L277.45 262.43 L278.20 262.44 L278.95 262.45 L279.70 262.46 L280.45 262.47 L281.20 262.48 L281.95 262.49 L282.70 262.51 L283.45 262.52 L284.20 262.53 L284.95 262.54 L285.70 262.55 L286.45 262.56 L287.20 262.57 L287.95 262.58 L288.70 262.59 L289.45 262.59 L290.20 262.59 L290.95 262.60 L291.70 262.59 L292.45 262.59 L293.20 262.59 L293.95 262.58 L294.70 262.58 L295.45 262.57 L296.20 262.56 L296.95 262.55 L297.70 262.53 L298.45 262.52 L299.20 262.51 L299.95 262.49 L300.70 262.48 L301.45 262.47 L302.20 262.45 L302.95 262.44 L303.70 262.42 L304.45 262.40 L305.20 262.37 L305.95 262.34 L306.70 262.30 L307.45 262.25 L308.20 262.20 L308.95 262.13 L309.70 262.06 L310.45 261.97 L311.20 261.88 L311.95 261.79 L312.70 261.68 L313.45 261.57 L314.20 261.45 L314.95 261.32 L315.70 261.18 L316.45 261.02 L317.20 260.84 L317.95 260.63 L318.70 260.39 L319.45 260.11 L320.20 259.80 L320.95 259.45 L321.70 259.07 L322.45 258.68 L323.20 258.26 L323.95 257.82 L324.70 257.38 L325.45 256.92 L326.20 256.44 L326.95 255.94 L327.70 255.42 L328.45 254.88 L329.20 254.32 L329.95 253.74 L330.70 253.13 L331.45 252.50 L332.20 251.84 L332.95 251.16 L333.70 250.45 L334.45 249.71 L335.20 248.95 L335.95 248.19 L336.70 247.43 L337.45 246.68 L338.20 245.97 L338.95 245.28 L339.70 244.64 L340.45 244.04 L341.20 243.47 L341.95 242.94 L342.70 242.45 L343.45 241.99 L344.20 241.56 L344.95 241.18 L345.70 240.82 L346.45 240.51 L347.20 240.22 L347.95 239.96 L348.70 239.72 L349.45 239.50 L350.20 239.29 L350.95 239.10 L351.70 238.94 L352.45 238.79 L353.20 238.67 L353.95 238.58 L354.70 238.52 L355.45 238.49 L356.20 238.47 L356.95 238.48 L357.70 238.50 L358.45 238.53 L359.20 238.56 L359.95 238.61 L360.70 238.66 L361.45 238.71 L362.20 238.77 L362.95 238.83 L363.70 238.89 L364.45 238.96 L365.20 239.03 L365.95 239.10 L366.70 239.17 L367.45 239.25 L368.20 239.33 L368.95 239.41 L369.70 239.50 L370.45 239.58 L371.20 239.67 L371.95 239.76 L372.70 239.85 L373.45 239.95 L374.20 240.04 L374.95 240.14 L375.70 240.25 L376.45 240.35 L377.20 240.46 L377.95 240.56 L378.70 240.68 L379.45 240.79 L380.20 240.91 L380.95 241.04 L381.70 241.17 L382.45 241.31 L383.20 241.46 L383.95 241.61 L384.70 241.77 L385.45 241.93 L386.20 242.10 L386.95 242.28 L387.70 242.46 L388.45 242.64 L389.20 242.83 L389.95 243.03 L390.70 243.23 L391.45 243.43 L392.20 243.64 L392.95 243.85 L393.70 244.07 L394.45 244.28 L395.20 244.50 L395.95 244.72 L396.70 244.95 L397.45 245.18 L398.20 245.41 L398.95 245.64 L399.70 245.89 L400.45 246.14 L401.20 246.40 L401.95 246.66 L402.70 246.94 L403.45 247.23 L404.20 247.53 L404.95 247.83 L405.70 248.15 L406.45 248.47 L407.20 248.80 L407.95 249.14 L408.70 249.49 L409.45 249.84 L410.20 250.19 L410.95 250.55 L411.70 250.90 L412.45 251.25 L413.20 251.59 L413.95 251.89 L414.70 252.16 L415.45 252.38 L415.45 252.38" stroke="#c8101e" stroke-width="2.8" fill="none" stroke-linecap="round"/>
<g fill="none" stroke="#4a4a4a" stroke-width="1.05" stroke-linecap="round">
<path d="M51.3 245.2 C53.2 242.2,56 242,58.6 243.7 S64.2 246.6,67.4 244.2"/>
<path d="M51.9 247.6 C53.8 244.6,56.6 244.4,59.1 246.1 S64.6 249,67.7 246.5"/>
</g>
<g font-family="Liberation Serif" font-size="9.6" fill="#3a3a3a" stroke="#3a3a3a" stroke-width="0.2" text-anchor="middle"><text x="64.53" y="356">0</text><text x="79.59" y="356">1</text><text x="94.65" y="356">2</text><text x="109.71" y="356">3</text><text x="124.77" y="356">4</text><text x="139.83" y="356">5</text><text x="154.89" y="356">6</text><text x="169.95" y="356">7</text><text x="185.01" y="356">8</text><text x="200.07" y="356">9</text><text x="215.13" y="356">10</text><text x="230.19" y="356">11</text><text x="245.25" y="356">12</text><text x="260.31" y="356">13</text><text x="275.37" y="356">14</text><text x="290.43" y="356">15</text><text x="305.49" y="356">16</text><text x="320.55" y="356">17</text><text x="335.61" y="356">18</text><text x="350.67" y="356">19</text><text x="365.73" y="356">20</text><text x="380.79" y="356">21</text><text x="395.85" y="356">22</text><text x="410.91" y="356">23</text></g>
<text x="432" y="351.5" font-size="9.2" textLength="20.2" lengthAdjust="spacing" fill="#333" stroke="#333" stroke-width="0.25">時刻</text>
<text x="25.8" y="100.9" font-size="11.8" fill="#333" stroke="#333" stroke-width="0.15">kW</text>
<text x="119.6" y="40.3" font-size="13" textLength="238.3" lengthAdjust="spacing" fill="#333" stroke="#333" stroke-width="0.2">夏期平日の電力の使われ方（イメージ）</text>
<path d="M246.3 67 H470.7 V98.5 H339 L276.7 110 L283.5 98.5 H246.3 Z" fill="#fff" stroke="#b01c2a" stroke-width="2"/>
<text x="260" y="87.6" font-size="13" fill="#333" stroke="#333" stroke-width="0.2">13:00-16:00の節電が特に重要です</text>
<text x="78.5" y="210.6" font-size="12.5" textLength="27.8" lengthAdjust="spacing" fill="#5a80b8" stroke="#5a80b8" stroke-width="0.4">需要</text>
<circle cx="84.8" cy="222.6" r="5.5" fill="none" stroke="#6a8cc0" stroke-width="1.15"/><text x="84.8" y="226.38" font-size="10.5" fill="#6a8cc0" text-anchor="middle">1</text><path d="M91.6 222.4 H104.0 M97.8 216.8 V228.0" stroke="#6a8cc0" stroke-width="1.2" fill="none"/><circle cx="110.6" cy="222.6" r="5.5" fill="none" stroke="#6a8cc0" stroke-width="1.15"/><text x="110.6" y="226.38" font-size="10.5" fill="#6a8cc0" text-anchor="middle">2</text><path d="M117.89999999999999 222.4 H130.29999999999998 M124.1 216.8 V228.0" stroke="#6a8cc0" stroke-width="1.2" fill="none"/><circle cx="138" cy="222.6" r="5.5" fill="none" stroke="#6a8cc0" stroke-width="1.15"/><text x="138" y="226.38" font-size="10.5" fill="#6a8cc0" text-anchor="middle">3</text>
<circle cx="96.2" cy="259.6" r="5.8" fill="none" stroke="#cc7a30" stroke-width="1.5"/><text x="96.2" y="263.56" font-size="11" fill="#cc7a30" text-anchor="middle" font-weight="bold">1</text>
<text x="103.6" y="263.3" font-size="11.3" textLength="25.6" lengthAdjust="spacing" fill="#cc7a30" stroke="#cc7a30" stroke-width="0.9">大口</text>
<circle cx="86" cy="292.3" r="5.7" fill="none" stroke="#b0606a" stroke-width="1.2"/><text x="86" y="296.08" font-size="10.5" fill="#b0606a" text-anchor="middle">3</text>
<text x="92.6" y="296.3" font-size="12.3" textLength="25.2" lengthAdjust="spacing" fill="#b0606a" stroke="#b0606a" stroke-width="0.3">家庭</text>
<circle cx="80.2" cy="323.8" r="5.8" fill="none" stroke="#6b7a40" stroke-width="1.5"/><text x="80.2" y="327.76" font-size="11" fill="#6b7a40" text-anchor="middle" font-weight="bold">2</text>
<text x="87.3" y="328.3" font-size="11.6" textLength="25.6" lengthAdjust="spacing" fill="#6b7a40" stroke="#6b7a40" stroke-width="0.9">小口</text>
<rect x="152.5" y="304.5" width="34.5" height="19" fill="#fff" stroke="#3a3a3a" stroke-width="1.2"/>
<rect x="358.5" y="304.5" width="36" height="18.5" fill="#fff" stroke="#3a3a3a" stroke-width="1.2"/>
<text x="167.8" y="317.4" font-family="Liberation Serif" font-size="10" fill="#333" stroke="#333" stroke-width="0.15" text-anchor="middle">9:00</text>
<text x="376.4" y="317.3" font-family="Liberation Serif" font-size="9.8" fill="#333" text-anchor="middle">20:00</text>
<text x="211" y="303.5" font-size="9.5" textLength="125.7" lengthAdjust="spacing" fill="#333" stroke="#333" stroke-width="0.3">節電をお願いしたい時間帯</text>
<g stroke="#1c6cc0" fill="none">
<line x1="198" y1="314" x2="353" y2="314" stroke-width="3.8"/>
<path d="M210.5 306.6 L197.8 314 L210.5 321.4" stroke-width="4.6" stroke-linecap="round" stroke-linejoin="miter"/>
<path d="M341 306.6 L353.2 314 L341 321.4" stroke-width="4.6" stroke-linecap="round" stroke-linejoin="miter"/>
</g>
</svg>
</body></html>
